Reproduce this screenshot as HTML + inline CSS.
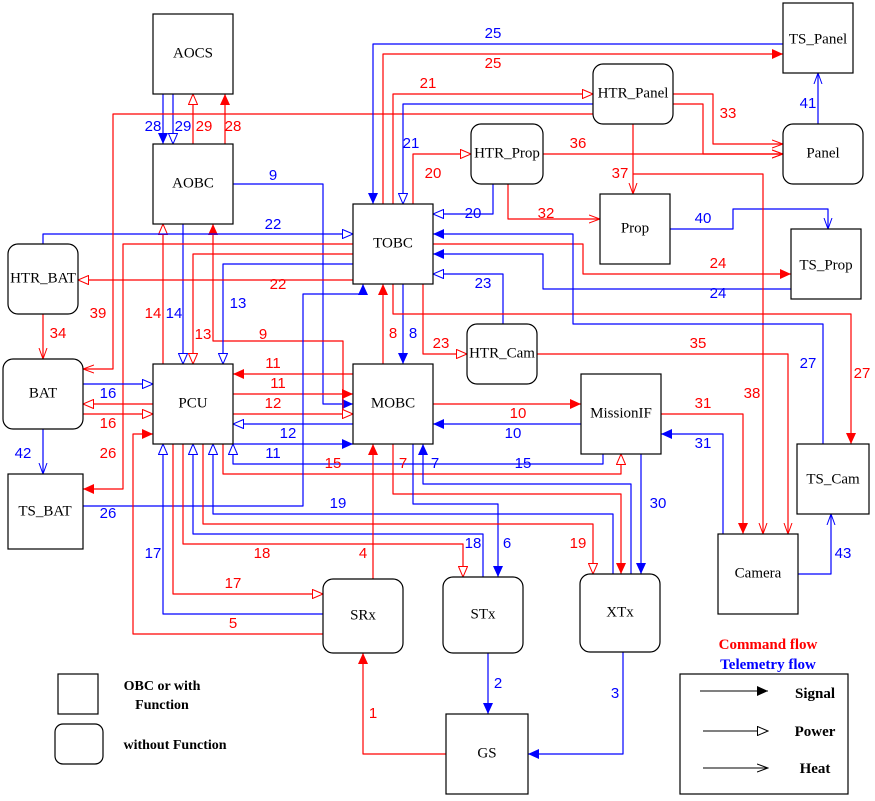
<!DOCTYPE html>
<html><head><meta charset="utf-8"><style>
html,body{margin:0;padding:0;background:#fff;}
svg{display:block}
.n{font-family:"Liberation Serif",serif;font-size:15px;text-anchor:middle;dominant-baseline:middle}
.l{font-family:"Liberation Sans",sans-serif;font-size:15px;text-anchor:middle;dominant-baseline:middle}
.r{fill:#f00}.b{fill:#00f}
.pr{fill:none;stroke:#f00;stroke-width:1.2;stroke-linejoin:round}
.pb{fill:none;stroke:#00f;stroke-width:1.2;stroke-linejoin:round}
.bx{fill:#fff;stroke:#000;stroke-width:1.2}
</style></head><body>
<svg width="875" height="801" viewBox="0 0 875 801" xmlns="http://www.w3.org/2000/svg">
<defs>
<marker id="fr" markerUnits="userSpaceOnUse" markerWidth="12" markerHeight="10" refX="11" refY="5" orient="auto"><path d="M0,0L11,5L0,10z" fill="#f00"/></marker>
<marker id="fb" markerUnits="userSpaceOnUse" markerWidth="12" markerHeight="10" refX="11" refY="5" orient="auto"><path d="M0,0L11,5L0,10z" fill="#00f"/></marker>
<marker id="hr" markerUnits="userSpaceOnUse" markerWidth="12" markerHeight="10" refX="11" refY="5" orient="auto"><path d="M0.5,0.5L11,5L0.5,9.5z" fill="#fff" stroke="#f00"/></marker>
<marker id="hb" markerUnits="userSpaceOnUse" markerWidth="12" markerHeight="10" refX="11" refY="5" orient="auto"><path d="M0.5,0.5L11,5L0.5,9.5z" fill="#fff" stroke="#00f"/></marker>
<marker id="vr" markerUnits="userSpaceOnUse" markerWidth="12" markerHeight="10" refX="11" refY="5" orient="auto"><path d="M0,1L11,5L0,9" fill="none" stroke="#f00"/></marker>
<marker id="vb" markerUnits="userSpaceOnUse" markerWidth="12" markerHeight="10" refX="11" refY="5" orient="auto"><path d="M0,1L11,5L0,9" fill="none" stroke="#00f"/></marker>
<marker id="fk" markerUnits="userSpaceOnUse" markerWidth="12" markerHeight="10" refX="11" refY="5" orient="auto"><path d="M0,0L11,5L0,10z" fill="#000"/></marker>
<marker id="hk" markerUnits="userSpaceOnUse" markerWidth="12" markerHeight="10" refX="11" refY="5" orient="auto"><path d="M0.5,0.5L11,5L0.5,9.5z" fill="#fff" stroke="#000"/></marker>
<marker id="vk" markerUnits="userSpaceOnUse" markerWidth="12" markerHeight="10" refX="11" refY="5" orient="auto"><path d="M0,1L11,5L0,9" fill="none" stroke="#000"/></marker>
</defs>

<polyline class="pb" points="163,94 163,144" marker-end="url(#fb)"/>
<polyline class="pb" points="173,94 173,144" marker-end="url(#hb)"/>
<polyline class="pr" points="193,144 193,94" marker-end="url(#hr)"/>
<polyline class="pr" points="225,144 225,94" marker-end="url(#fr)"/>
<polyline class="pb" points="233,184 323,184 323,404 353,404" marker-end="url(#fb)"/>
<polyline class="pr" points="353,414 343,414 343,341 213,341 213,224" marker-end="url(#fr)"/>
<polyline class="pr" points="163,364 163,224" marker-end="url(#hr)"/>
<polyline class="pb" points="183,224 183,364" marker-end="url(#hb)"/>
<polyline class="pr" points="353,254 193,254 193,364" marker-end="url(#hr)"/>
<polyline class="pb" points="353,264 223,264 223,364" marker-end="url(#hb)"/>
<polyline class="pb" points="43,244 43,234 353,234" marker-end="url(#hb)"/>
<polyline class="pr" points="353,280 78,280" marker-end="url(#hr)"/>
<polyline class="pr" points="593,114 113,114 113,369 83,369" marker-end="url(#vr)"/>
<polyline class="pr" points="353,244 123,244 123,489 83,489" marker-end="url(#fr)"/>
<polyline class="pb" points="83,384 153,384" marker-end="url(#hb)"/>
<polyline class="pr" points="153,404 83,404" marker-end="url(#hr)"/>
<polyline class="pr" points="83,414 153,414" marker-end="url(#hr)"/>
<polyline class="pb" points="43,429 43,474" marker-end="url(#vb)"/>
<polyline class="pr" points="43,314 43,359" marker-end="url(#vr)"/>
<polyline class="pr" points="353,374 233,374" marker-end="url(#fr)"/>
<polyline class="pr" points="233,394 353,394" marker-end="url(#fr)"/>
<polyline class="pr" points="233,414 353,414" marker-end="url(#hr)"/>
<polyline class="pb" points="353,424 233,424" marker-end="url(#hb)"/>
<polyline class="pb" points="233,444 353,444" marker-end="url(#fb)"/>
<polyline class="pr" points="383,364 383,284" marker-end="url(#fr)"/>
<polyline class="pb" points="403,284 403,364" marker-end="url(#fb)"/>
<polyline class="pb" points="493,184 493,214 433,214" marker-end="url(#hb)"/>
<polyline class="pr" points="413,204 413,154 471,154" marker-end="url(#hr)"/>
<polyline class="pr" points="393,204 393,94 593,94" marker-end="url(#hr)"/>
<polyline class="pb" points="593,104 403,104 403,204" marker-end="url(#hb)"/>
<polyline class="pb" points="783,44 373,44 373,204" marker-end="url(#fb)"/>
<polyline class="pr" points="383,204 383,54 783,54" marker-end="url(#fr)"/>
<polyline class="pr" points="673,94 713,94 713,144 783,144" marker-end="url(#vr)"/>
<polyline class="pr" points="673,104 703,104 703,154 783,154" marker-end="url(#vr)"/>
<polyline class="pb" points="818,124 818,73" marker-end="url(#vb)"/>
<polyline class="pr" points="543,154 783,154" marker-end="url(#vr)"/>
<polyline class="pr" points="633,124 633,194" marker-end="url(#vr)"/>
<polyline class="pr" points="508,184 508,219 600,219" marker-end="url(#vr)"/>
<polyline class="pb" points="670,229 733,229 733,209 828,209 828,229" marker-end="url(#vb)"/>
<polyline class="pr" points="433,244 583,244 583,274 791,274" marker-end="url(#fr)"/>
<polyline class="pb" points="791,289 543,289 543,254 433,254" marker-end="url(#fb)"/>
<polyline class="pb" points="503,324 503,274 433,274" marker-end="url(#hb)"/>
<polyline class="pr" points="423,284 423,354 467,354" marker-end="url(#hr)"/>
<polyline class="pr" points="537,354 788,354 788,534" marker-end="url(#vr)"/>
<polyline class="pr" points="633,174 763,174 763,534" marker-end="url(#vr)"/>
<polyline class="pr" points="393,284 393,314 851,314 851,444" marker-end="url(#fr)"/>
<polyline class="pb" points="823,444 823,324 573,324 573,234 433,234" marker-end="url(#fb)"/>
<polyline class="pr" points="433,404 581,404" marker-end="url(#fr)"/>
<polyline class="pb" points="581,424 433,424" marker-end="url(#fb)"/>
<polyline class="pr" points="661,414 743,414 743,534" marker-end="url(#fr)"/>
<polyline class="pb" points="723,534 723,434 661,434" marker-end="url(#fb)"/>
<polyline class="pb" points="641,454 641,574" marker-end="url(#fb)"/>
<polyline class="pb" points="798,574 831,574 831,514" marker-end="url(#vb)"/>
<polyline class="pr" points="223,444 223,474 621,474 621,454" marker-end="url(#hr)"/>
<polyline class="pb" points="603,454 603,464 233,464 233,444" marker-end="url(#hb)"/>
<polyline class="pr" points="393,444 393,494 621,494 621,574" marker-end="url(#fr)"/>
<polyline class="pb" points="631,574 631,484 423,484 423,444" marker-end="url(#fb)"/>
<polyline class="pb" points="413,444 413,504 498,504 498,577" marker-end="url(#fb)"/>
<polyline class="pb" points="83,506 303,506 303,294 363,294 363,284" marker-end="url(#fb)"/>
<polyline class="pb" points="613,574 613,514 213,514 213,444" marker-end="url(#hb)"/>
<polyline class="pr" points="203,444 203,524 593,524 593,574" marker-end="url(#hr)"/>
<polyline class="pr" points="183,444 183,544 463,544 463,577" marker-end="url(#hr)"/>
<polyline class="pb" points="483,577 483,534 193,534 193,444" marker-end="url(#hb)"/>
<polyline class="pr" points="173,444 173,594 323,594" marker-end="url(#hr)"/>
<polyline class="pb" points="323,614 163,614 163,444" marker-end="url(#hb)"/>
<polyline class="pr" points="323,634 133,634 133,434 153,434" marker-end="url(#fr)"/>
<polyline class="pr" points="373,579 373,444" marker-end="url(#fr)"/>
<polyline class="pb" points="488,653 488,714" marker-end="url(#fb)"/>
<polyline class="pb" points="623,652 623,754 528,754" marker-end="url(#fb)"/>
<polyline class="pr" points="446,754 363,754 363,653" marker-end="url(#fr)"/>

<rect class="bx" x="153" y="14" width="80" height="80"/><text class="n" x="193" y="54">AOCS</text>
<rect class="bx" x="153" y="144" width="80" height="80"/><text class="n" x="193" y="184">AOBC</text>
<rect class="bx" x="353" y="204" width="80" height="80"/><text class="n" x="393" y="244">TOBC</text>
<rect class="bx" x="153" y="364" width="80" height="80"/><text class="n" x="193" y="404">PCU</text>
<rect class="bx" x="353" y="364" width="80" height="80"/><text class="n" x="393" y="404">MOBC</text>
<rect class="bx" x="581" y="374" width="80" height="80"/><text class="n" x="621" y="414">MissionIF</text>
<rect class="bx" x="8" y="244" width="70" height="70" rx="10"/><text class="n" x="43" y="279">HTR_BAT</text>
<rect class="bx" x="3" y="359" width="80" height="70" rx="10"/><text class="n" x="43" y="394">BAT</text>
<rect class="bx" x="8" y="474" width="75" height="75"/><text class="n" x="45" y="512">TS_BAT</text>
<rect class="bx" x="593" y="64" width="80" height="60" rx="10"/><text class="n" x="633" y="94">HTR_Panel</text>
<rect class="bx" x="471" y="124" width="72" height="60" rx="10"/><text class="n" x="507" y="154">HTR_Prop</text>
<rect class="bx" x="600" y="194" width="70" height="70"/><text class="n" x="635" y="229">Prop</text>
<rect class="bx" x="783" y="3" width="70" height="70"/><text class="n" x="818" y="40">TS_Panel</text>
<rect class="bx" x="783" y="124" width="80" height="60" rx="10"/><text class="n" x="823" y="154">Panel</text>
<rect class="bx" x="791" y="229" width="70" height="70"/><text class="n" x="826" y="266">TS_Prop</text>
<rect class="bx" x="467" y="324" width="70" height="60" rx="10"/><text class="n" x="502" y="354">HTR_Cam</text>
<rect class="bx" x="797" y="444" width="72" height="70"/><text class="n" x="833" y="480">TS_Cam</text>
<rect class="bx" x="718" y="534" width="80" height="80"/><text class="n" x="758" y="574">Camera</text>
<rect class="bx" x="323" y="579" width="80" height="74" rx="10"/><text class="n" x="363" y="616">SRx</text>
<rect class="bx" x="443" y="577" width="80" height="76" rx="10"/><text class="n" x="483" y="615">STx</text>
<rect class="bx" x="580" y="574" width="80" height="78" rx="10"/><text class="n" x="620" y="613">XTx</text>
<rect class="bx" x="446" y="714" width="82" height="80"/><text class="n" x="487" y="754">GS</text>

<g class="l">
<text class="b" x="153" y="127">28</text><text class="b" x="183" y="127">29</text>
<text class="r" x="204" y="127">29</text><text class="r" x="233" y="127">28</text>
<text class="b" x="273" y="176">9</text><text class="r" x="263" y="335">9</text>
<text class="r" x="153" y="314">14</text><text class="b" x="174" y="314">14</text>
<text class="r" x="203" y="335">13</text><text class="b" x="238" y="304">13</text>
<text class="b" x="273" y="225">22</text><text class="r" x="278" y="285">22</text>
<text class="r" x="98" y="314">39</text><text class="r" x="58" y="334">34</text>
<text class="b" x="108" y="394">16</text><text class="r" x="108" y="424">16</text>
<text class="r" x="108" y="454">26</text><text class="b" x="23" y="454">42</text>
<text class="b" x="108" y="514">26</text>
<text class="r" x="273" y="364">11</text><text class="r" x="278" y="384">11</text>
<text class="r" x="273" y="404">12</text><text class="b" x="288" y="434">12</text>
<text class="b" x="273" y="454">11</text>
<text class="r" x="393" y="334">8</text><text class="b" x="413" y="334">8</text>
<text class="b" x="473" y="214">20</text><text class="r" x="433" y="174">20</text>
<text class="r" x="428" y="84">21</text><text class="b" x="411" y="144">21</text>
<text class="b" x="493" y="34">25</text><text class="r" x="493" y="64">25</text>
<text class="r" x="728" y="114">33</text><text class="b" x="808" y="104">41</text>
<text class="r" x="578" y="144">36</text><text class="r" x="620" y="174">37</text>
<text class="r" x="546" y="214">32</text><text class="b" x="703" y="219">40</text>
<text class="r" x="718" y="264">24</text><text class="b" x="718" y="294">24</text>
<text class="b" x="483" y="284">23</text><text class="r" x="441" y="344">23</text>
<text class="r" x="698" y="344">35</text><text class="r" x="752" y="394">38</text>
<text class="r" x="862" y="374">27</text><text class="b" x="808" y="364">27</text>
<text class="r" x="518" y="414">10</text><text class="b" x="513" y="434">10</text>
<text class="r" x="703" y="404">31</text><text class="b" x="703" y="444">31</text>
<text class="b" x="658" y="504">30</text><text class="b" x="843" y="554">43</text>
<text class="r" x="333" y="464">15</text><text class="b" x="523" y="464">15</text>
<text class="r" x="403" y="464">7</text><text class="b" x="435" y="464">7</text>
<text class="b" x="507" y="544">6</text>
<text class="b" x="338" y="504">19</text><text class="r" x="578" y="544">19</text>
<text class="r" x="262" y="554">18</text><text class="b" x="473" y="544">18</text>
<text class="r" x="233" y="584">17</text><text class="b" x="153" y="554">17</text>
<text class="r" x="233" y="624">5</text><text class="r" x="363" y="554">4</text>
<text class="b" x="498" y="684">2</text><text class="b" x="615" y="694">3</text>
<text class="r" x="373" y="714">1</text>
</g>

<rect class="bx" x="58" y="674" width="40" height="40"/>
<rect class="bx" x="55" y="724" width="48" height="40" rx="8"/>
<text x="162" y="690" style="font-family:'Liberation Serif',serif;font-size:14px;font-weight:bold;text-anchor:middle">OBC or with</text>
<text x="162" y="709" style="font-family:'Liberation Serif',serif;font-size:14px;font-weight:bold;text-anchor:middle">Function</text>
<text x="175" y="749" style="font-family:'Liberation Serif',serif;font-size:14px;font-weight:bold;text-anchor:middle">without Function</text>
<text x="768" y="649" style="font-family:'Liberation Serif',serif;font-size:15px;font-weight:bold;text-anchor:middle;fill:#f00">Command flow</text>
<text x="768" y="669" style="font-family:'Liberation Serif',serif;font-size:15px;font-weight:bold;text-anchor:middle;fill:#00f">Telemetry flow</text>
<rect class="bx" x="680" y="674" width="168" height="120"/>
<line x1="700" y1="691" x2="768" y2="691" stroke="#000" marker-end="url(#fk)"/>
<line x1="703" y1="731" x2="768" y2="731" stroke="#000" marker-end="url(#hk)"/>
<line x1="703" y1="768" x2="768" y2="768" stroke="#000" marker-end="url(#vk)"/>
<g style="font-family:'Liberation Serif',serif;font-size:15px;font-weight:bold;text-anchor:middle">
<text x="815" y="698">Signal</text><text x="815" y="736">Power</text><text x="815" y="773">Heat</text>
</g>
</svg>
</body></html>
